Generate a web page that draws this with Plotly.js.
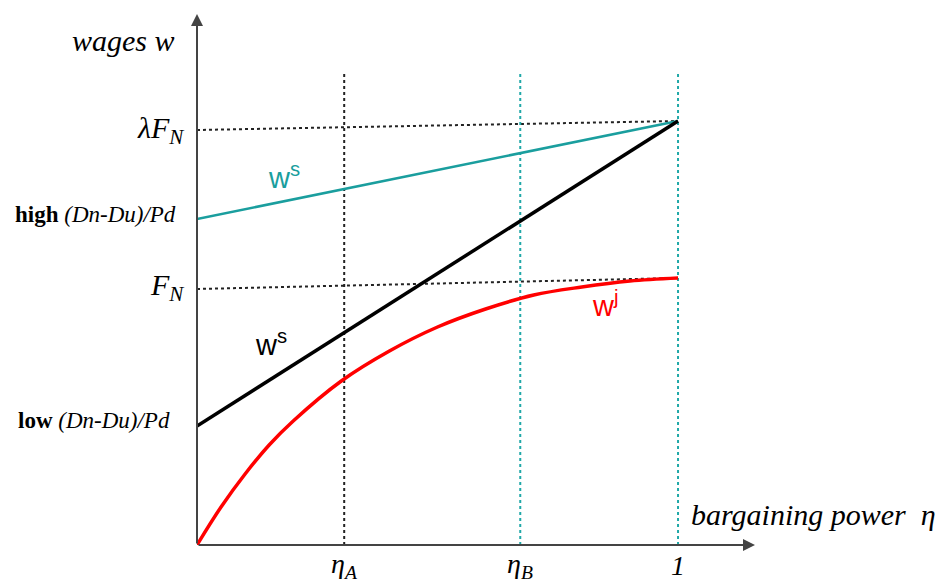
<!DOCTYPE html>
<html>
<head>
<meta charset="utf-8">
<script src="https://cdn.plot.ly/plotly-3.0.1.min.js"></script>
<style>html,body{margin:0;padding:0;background:#fff;}#chart{width:949px;height:582px;}</style>
</head>
<body>
<div id="chart"></div>
<script>
// bargaining power η (0..1), wages in arbitrary units
const etaA = 0.306;
const etaB = 0.672;
const etaMax = 1;
const lambdaFN = [415, 424];   // dotted reference line, at η=0 and η=1
const FN = [256, 267];         // dotted reference line, at η=0 and η=1
const wsHighX = [0, 1];
const wsHigh = [326, 424];     // teal w^s (high (Dn-Du)/Pd)
const wsLowX = [0, 1];
const wsLow = [119, 424];      // black w^s (low (Dn-Du)/Pd)
const wjX = [0, 0.05, 0.1, 0.15, 0.2, 0.3, 0.4, 0.5, 0.6, 0.7, 0.8, 0.9, 1];
const wj = [0, 38, 71, 100, 124, 164, 194, 218, 236, 250, 258, 264, 267];
const xTickLabels = ['<i>η</i><sub><i>A</i></sub>', '<i>η</i><sub><i>B</i></sub>', '<i>1</i>'];
const vTop = 473;
const xEnd = 1.16, yEnd = 531;

const traces = [
  {x:[0,1], y:lambdaFN, mode:'lines', line:{color:'#222', width:2, dash:'dot'}},
  {x:[0,1], y:FN, mode:'lines', line:{color:'#222', width:2, dash:'dot'}},
  {x:[etaA,etaA], y:[0,vTop], mode:'lines', line:{color:'#222', width:2, dash:'dot'}},
  {x:[etaB,etaB], y:[0,vTop], mode:'lines', line:{color:'#20a8a8', width:2, dash:'dot'}},
  {x:[etaMax,etaMax], y:[0,vTop], mode:'lines', line:{color:'#20a8a8', width:2, dash:'dot'}},
  {x:wsHighX, y:wsHigh, mode:'lines', line:{color:'#1a9e9e', width:2.5}},
  {x:wsLowX, y:wsLow, mode:'lines', line:{color:'#000', width:3.5}},
  {x:wjX, y:wj, mode:'lines', line:{color:'#ff0000', width:3.5, shape:'spline'}}
];

const serif = 'Liberation Serif, Times New Roman, serif';
const sans = 'Liberation Sans, Arial, sans-serif';
// pixel -> paper coordinates (plot area: x 197..755, y 14..545)
function px(p){return (p-197)/558;}
function py(p){return (545-p)/531;}
function lab(xp, yp, text, anchor, font){
  return {x:px(xp), y:py(yp), xref:'paper', yref:'paper', xanchor:anchor, yanchor:'middle', showarrow:false, text:text, font:font};
}
const F_serif = (s)=>({family:serif, size:s, color:'#000'});
const ann = [
  // axes arrows
  {x:xEnd, y:0, ax:0, ay:0, axref:'x', ayref:'y', xref:'x', yref:'y', text:'', showarrow:true, arrowhead:2, arrowsize:1.2, arrowwidth:2, arrowcolor:'#444', standoff:0},
  {x:0, y:yEnd, ax:0, ay:0, axref:'x', ayref:'y', xref:'x', yref:'y', text:'', showarrow:true, arrowhead:2, arrowsize:1.2, arrowwidth:2, arrowcolor:'#444', standoff:0},
  // y labels
  lab(177, 41, '<i>wages w</i>', 'right', F_serif(30)),
  lab(186, 130, '<i>λF</i><sub><i>N</i></sub>', 'right', F_serif(30)),
  lab(178, 214, '<b>high</b> <i>(Dn-Du)/Pd</i>', 'right', F_serif(23)),
  lab(186, 287, '<i>F</i><sub><i>N</i></sub>', 'right', F_serif(30)),
  lab(172, 420, '<b>low</b> <i>(Dn-Du)/Pd</i>', 'right', F_serif(23)),
  // curve labels
  lab(266, 176, 'w<sup>s</sup>', 'left', {family:sans, size:29, color:'#1a9e9e'}),
  lab(253, 343, 'w<sup>s</sup>', 'left', {family:sans, size:29, color:'#000'}),
  lab(590, 304, 'w<sup>j</sup>', 'left', {family:sans, size:29, color:'#ff0000'}),
  // x labels
  lab(197 + etaA*481, 565, xTickLabels[0], 'center', F_serif(28)),
  lab(197 + etaB*481, 565, xTickLabels[1], 'center', F_serif(28)),
  lab(197 + etaMax*481, 565, xTickLabels[2], 'center', F_serif(28)),
  lab(689, 514, '<i>bargaining power  η</i>', 'left', F_serif(30))
];

const layout = {
  width:949, height:582,
  margin:{l:197, r:194, t:14, b:37},
  paper_bgcolor:'#fff', plot_bgcolor:'#fff',
  showlegend:false,
  xaxis:{range:[0,xEnd], showgrid:false, zeroline:false, showticklabels:false, showline:false, fixedrange:true},
  yaxis:{range:[0,yEnd], showgrid:false, zeroline:false, showticklabels:false, showline:false, fixedrange:true},
  annotations:ann
};
Plotly.newPlot('chart', traces, layout, {displayModeBar:false, staticPlot:true});
</script>
</body>
</html>
